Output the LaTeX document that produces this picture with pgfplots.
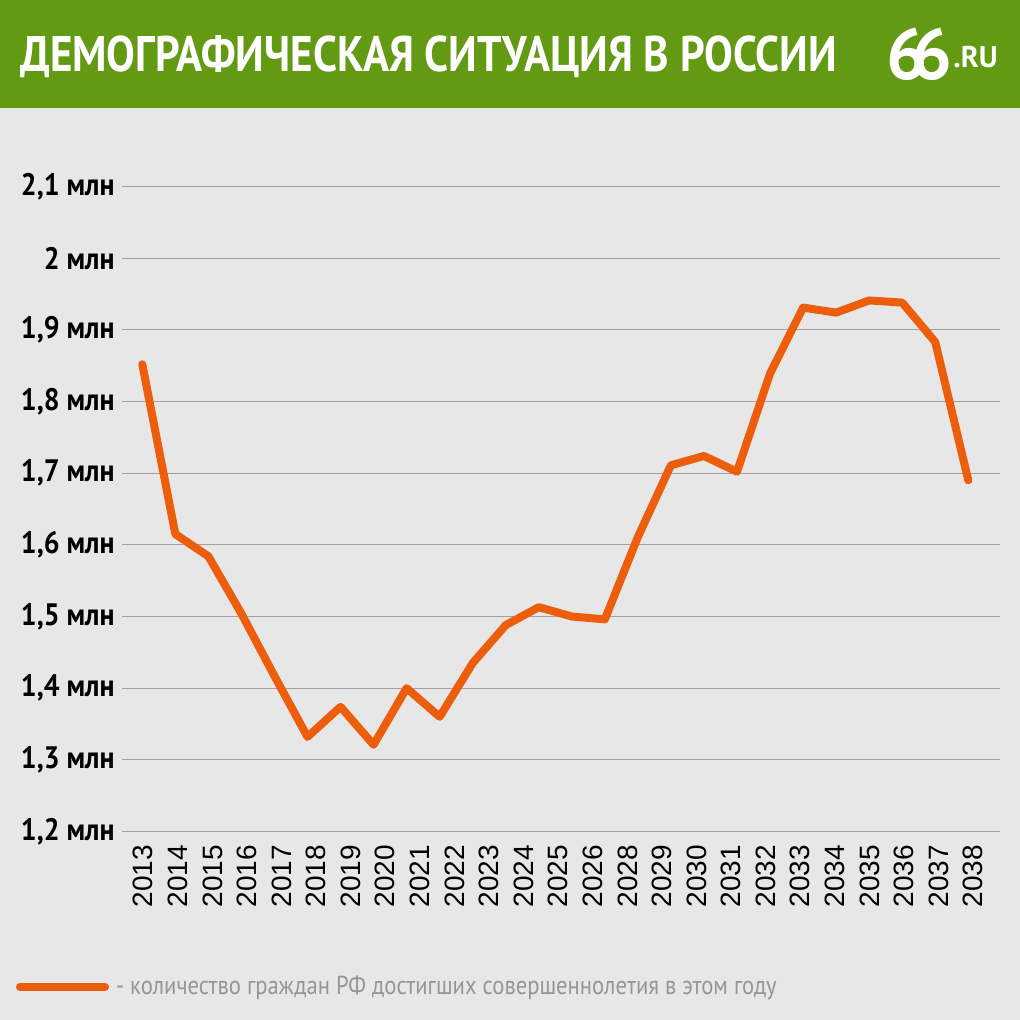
\documentclass[border=0pt]{standalone}
\usepackage{pgfplots}
\pgfplotsset{compat=1.18}
\usepackage{fontspec}
\setmainfont{Liberation Sans}
\newfontfamily\titlefont[FakeStretch=0.86]{PT Sans}
\newfontfamily\tickfont[FakeStretch=0.9]{PT Sans}
\newfontfamily\logofont{PT Sans}
\newfontfamily\legfont[FakeStretch=0.87]{PT Sans}
\definecolor{bg}{RGB}{231,231,231}
\definecolor{hdr}{RGB}{99,154,20}
\definecolor{lineor}{RGB}{236,93,12}
\definecolor{gridc}{RGB}{160,160,160}
\definecolor{leggray}{RGB}{150,150,150}
\begin{document}
\begin{tikzpicture}
\useasboundingbox (0,0) rectangle (510pt,510pt);
\fill[bg] (0,0) rectangle (510pt,510pt);
\fill[hdr] (0,456pt) rectangle (510pt,510pt);
\node[anchor=base west, inner sep=0pt, text=white, font=\fontsize{25pt}{25pt}\titlefont\bfseries] at (10pt,474pt) {ДЕМОГРАФИЧЕСКАЯ СИТУАЦИЯ В РОССИИ};
\node[anchor=base west, inner sep=0pt, text=white, font=\fontsize{36pt}{36pt}\logofont\bfseries] at (443pt,470pt) {6\kern-8pt6};
\node[anchor=base west, inner sep=0pt, text=white, font=\fontsize{15pt}{15pt}\logofont\bfseries] at (476.5pt,476pt) {.RU};
\begin{axis}[
  at={(61pt,94.25pt)}, anchor=south west,
  scale only axis, width=439pt, height=322.5pt,
  xmin=-0.614, xmax=25.96, ymin=1.2, ymax=2.1,
  axis line style={draw=none},
  tick style={draw=none}, major tick length=0pt,
  ymajorgrids=true, xmajorgrids=false,
  grid style={gridc, line width=0.65pt},
  ytick={1.2,1.3,1.4,1.5,1.6,1.7,1.8,1.9,2.0,2.1},
  yticklabels={{1,2 млн},{1,3 млн},{1,4 млн},{1,5 млн},{1,6 млн},{1,7 млн},{1,8 млн},{1,9 млн},{2 млн},{2,1 млн}},
  yticklabel style={anchor=east, inner sep=0pt, xshift=-3.5pt, font=\fontsize{15.5pt}{16pt}\tickfont\bfseries},
  xtick={0.03,1.077,2.123,3.170,4.216,5.263,6.310,7.356,8.403,9.449,10.496,11.543,12.589,13.636,14.682,15.729,16.776,17.822,18.869,19.915,20.962,22.009,23.055,24.102,25.148},
  xticklabels={2013,2014,2015,2016,2017,2018,2019,2020,2021,2022,2023,2024,2025,2026,2028,2029,2030,2031,2032,2033,2034,2035,2036,2037,2038},
  xticklabel style={yshift=-6.5pt, rotate=90, anchor=east, inner sep=0pt, font=\fontsize{14pt}{14pt}\selectfont},
  legend style={at={(-0.1207,-0.241)}, anchor=west, draw=none, fill=none, inner sep=0pt, outer sep=0pt,
    nodes={inner sep=0pt}, column sep=3.5pt, font=\fontsize{13pt}{13pt}\legfont, text=leggray},
  legend image code/.code={\draw[lineor, line width=4pt, line cap=round] (0pt,0pt) -- (42.5pt,0pt);},
]
\addplot[lineor, line width=4pt, line join=round, line cap=round] coordinates {
(0,1.852) (1,1.615) (2,1.584) (3,1.504) (4,1.417) (5,1.332) (6,1.374) (7,1.321) (8,1.400) (9,1.360)
(10,1.435) (11,1.488) (12,1.513) (13,1.500) (14,1.496) (15,1.611) (16,1.711) (17,1.724) (18,1.702)
(19,1.839) (20,1.931) (21,1.924) (22,1.941) (23,1.938) (24,1.883) (25,1.690)
};
\addlegendentry{- количество граждан РФ достигших совершеннолетия в этом году}
\end{axis}
\end{tikzpicture}
\end{document}
